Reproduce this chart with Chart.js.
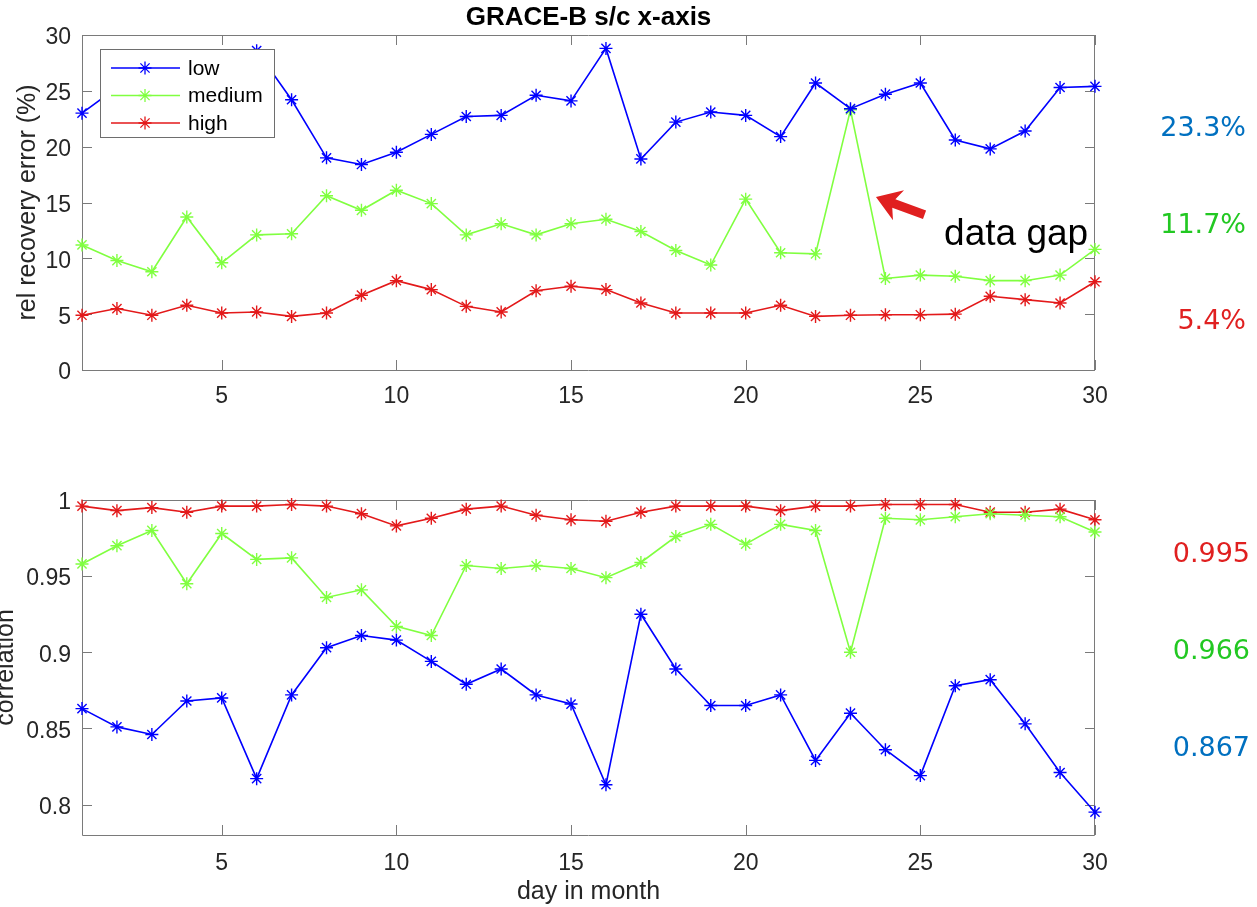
<!DOCTYPE html>
<html>
<head>
<meta charset="utf-8">
<title>GRACE-B s/c x-axis</title>
<script src="https://cdn.jsdelivr.net/npm/chart.js@4.4.1/dist/chart.umd.min.js"></script>
<style>
  body { margin: 0; background: #fff; }
  #wrap { position: relative; width: 1257px; height: 907px; overflow: hidden; }
  canvas { display: block; }
  .stat { position: absolute; font-family: "DejaVu Sans", Verdana, sans-serif; font-size: 27px; line-height: 32px; }
  .err { right: 11px; }
  .corr { right: 7px; }
</style>
</head>
<body>
<div id="wrap">
  <canvas id="errChart" width="1257" height="440"></canvas>
  <canvas id="corrChart" width="1257" height="467"></canvas>
  <div class="stat err" style="top:111px;color:#0070c0">23.3%</div>
  <div class="stat err" style="top:208px;color:#22c822">11.7%</div>
  <div class="stat err" style="top:304px;color:#e02020">5.4%</div>
  <div class="stat corr" style="top:537px;color:#e02020">0.995</div>
  <div class="stat corr" style="top:634px;color:#22c822">0.966</div>
  <div class="stat corr" style="top:731px;color:#0070c0">0.867</div>
</div>
<script>
// daily recovery statistics, one value per day of the month
const days = [1, 2, 3, 4, 5, 6, 7, 8, 9, 10, 11, 12, 13, 14, 15,
              16, 17, 18, 19, 20, 21, 22, 23, 24, 25, 26, 27, 28, 29, 30];

// relative recovery error (%)
const lowErr = [23.0, 25.3, 25.8, 26.4, 27.0, 28.6, 24.2, 19.0, 18.4, 19.5, 21.1, 22.7, 22.8, 24.6, 24.1,
                28.8, 18.9, 22.2, 23.1, 22.8, 20.9, 25.7, 23.4, 24.7, 25.7, 20.6, 19.8, 21.4, 25.3, 25.4];
const medErr = [11.2, 9.8, 8.8, 13.7, 9.6, 12.1, 12.2, 15.6, 14.3, 16.1, 14.9, 12.1, 13.1, 12.1, 13.1,
                13.5, 12.4, 10.7, 9.4, 15.3, 10.5, 10.4, 23.3, 8.2, 8.5, 8.4, 8.0, 8.0, 8.5, 10.8];
const highErr = [4.9, 5.5, 4.9, 5.8, 5.1, 5.2, 4.8, 5.1, 6.7, 8.0, 7.2, 5.7, 5.2, 7.1, 7.5,
                 7.2, 6.0, 5.1, 5.1, 5.1, 5.8, 4.8, 4.9, 4.95, 4.95, 5.0, 6.6, 6.3, 6.0, 7.9];

// correlation
const lowCorr = [0.863, 0.851, 0.846, 0.868, 0.870, 0.817, 0.872, 0.903, 0.911, 0.908, 0.894, 0.879, 0.889, 0.872, 0.866,
                 0.813, 0.925, 0.889, 0.865, 0.865, 0.872, 0.829, 0.860, 0.836, 0.819, 0.878, 0.882, 0.853, 0.821, 0.795];
const medCorr = [0.958, 0.970, 0.980, 0.945, 0.978, 0.961, 0.962, 0.936, 0.941, 0.917, 0.911, 0.957, 0.955, 0.957, 0.955,
                 0.949, 0.959, 0.976, 0.984, 0.971, 0.984, 0.980, 0.900, 0.988, 0.987, 0.989, 0.991, 0.990, 0.989, 0.979];
const highCorr = [0.996, 0.993, 0.995, 0.992, 0.996, 0.996, 0.997, 0.996, 0.991, 0.983, 0.988, 0.994, 0.996, 0.990, 0.987,
                  0.986, 0.992, 0.996, 0.996, 0.996, 0.993, 0.996, 0.996, 0.997, 0.997, 0.997, 0.992, 0.992, 0.994, 0.987];

const seriesNames = ["low", "medium", "high"];
const seriesColors = ["#0000ff", "#80ff40", "#e3191a"];

const xTicks = [5, 10, 15, 20, 25, 30];
const errTicks = [0, 5, 10, 15, 20, 25, 30];
const corrTicks = [0.8, 0.85, 0.9, 0.95, 1];

const FONT = "'Liberation Sans', Helvetica, Arial, sans-serif";
const INK = "#262626";

function makeDatasets(values) {
  return values.map((vals, i) => ({
    label: seriesNames[i],
    data: days.map((d, k) => ({ x: d, y: vals[k] })),
    borderColor: seriesColors[i],
    backgroundColor: seriesColors[i],
    borderWidth: 1.6,
    pointStyle: "star",
    pointRadius: 6.5,
    pointBorderWidth: 1.4,
    pointBorderColor: seriesColors[i],
    tension: 0,
    clip: false
  }));
}

// matlab style box with inward ticks on all four sides
const axesBox = {
  id: "axesBox",
  beforeDatasetsDraw(chart) {
    const { ctx, chartArea: a, scales } = chart;
    const px = v => Math.round(v) + 0.5;
    ctx.save();
    ctx.strokeStyle = "#7a7a7a";
    ctx.lineWidth = 1;
    ctx.beginPath();
    ctx.rect(px(a.left), px(a.top), Math.round(a.right) - Math.round(a.left) - 1, Math.round(a.bottom) - Math.round(a.top));
    scales.x.ticks.forEach(t => {
      const X = px(scales.x.getPixelForValue(t.value));
      ctx.moveTo(X, a.bottom); ctx.lineTo(X, a.bottom - 10);
      ctx.moveTo(X, a.top); ctx.lineTo(X, a.top + 10);
    });
    scales.y.ticks.forEach(t => {
      const Y = px(scales.y.getPixelForValue(t.value));
      ctx.moveTo(a.left, Y); ctx.lineTo(a.left + 10, Y);
      ctx.moveTo(a.right, Y); ctx.lineTo(a.right - 10, Y);
    });
    ctx.stroke();
    ctx.restore();
  }
};

// title centred over the plot box rather than the whole canvas
const boxTitle = {
  id: "boxTitle",
  afterDraw(chart, args, opts) {
    const { ctx, chartArea: a } = chart;
    ctx.save();
    ctx.fillStyle = "#000";
    ctx.font = "bold 26px " + FONT;
    ctx.textAlign = "center";
    ctx.textBaseline = "alphabetic";
    ctx.fillText(opts.text, (a.left + a.right) / 2, a.top - 10);
    ctx.restore();
  }
};

function drawStar(ctx, x, y, r) {
  ctx.beginPath();
  for (let k = 0; k < 4; k++) {
    const ang = k * Math.PI / 4;
    ctx.moveTo(x - Math.cos(ang) * r, y - Math.sin(ang) * r);
    ctx.lineTo(x + Math.cos(ang) * r, y + Math.sin(ang) * r);
  }
  ctx.stroke();
}

// legend box in the upper left corner of the plot
const boxLegend = {
  id: "boxLegend",
  afterDatasetsDraw(chart) {
    const { ctx, chartArea: a } = chart;
    const left = a.left + 18, top = a.top + 14, w = 174, h = 88;
    ctx.save();
    ctx.fillStyle = "#fff";
    ctx.fillRect(left, top, w, h);
    ctx.strokeStyle = "#6e6e6e";
    ctx.lineWidth = 1;
    ctx.strokeRect(Math.round(left) + 0.5, Math.round(top) + 0.5, w, h);
    ctx.font = "21px " + FONT;
    ctx.textBaseline = "middle";
    chart.data.datasets.forEach((ds, i) => {
      const y = top + 19 + i * 27.5;
      ctx.strokeStyle = ds.borderColor;
      ctx.lineWidth = 1.5;
      ctx.beginPath();
      ctx.moveTo(left + 11, y); ctx.lineTo(left + 80, y);
      ctx.stroke();
      ctx.lineWidth = 1.3;
      drawStar(ctx, left + 45, y, 6.5);
      ctx.fillStyle = "#000";
      ctx.fillText(ds.label, left + 88, y + 1);
    });
    ctx.restore();
  }
};

// arrow and note next to the day-23 spike
const gapNote = {
  id: "gapNote",
  afterDatasetsDraw(chart) {
    const { ctx, scales: { x, y } } = chart;
    const tipX = x.getPixelForValue(23.73), tipY = y.getPixelForValue(15.5);
    const tailX = x.getPixelForValue(25.12), tailY = y.getPixelForValue(13.9);
    const dx = tipX - tailX, dy = tipY - tailY, len = Math.hypot(dx, dy);
    const ux = dx / len, uy = dy / len, nx = -uy, ny = ux;
    const headL = 24, headW = 16, shaft = 4.5;
    const bx = tipX - ux * headL, by = tipY - uy * headL;
    ctx.save();
    ctx.fillStyle = "#e02020";
    ctx.beginPath();
    ctx.moveTo(tipX, tipY);
    ctx.lineTo(bx + nx * headW, by + ny * headW);
    ctx.lineTo(bx + ux * 5 + nx * shaft, by + uy * 5 + ny * shaft);
    ctx.lineTo(tailX + nx * shaft, tailY + ny * shaft);
    ctx.lineTo(tailX - nx * shaft, tailY - ny * shaft);
    ctx.lineTo(bx + ux * 5 - nx * shaft, by + uy * 5 - ny * shaft);
    ctx.lineTo(bx - nx * headW, by - ny * headW);
    ctx.closePath();
    ctx.fill();
    ctx.fillStyle = "#000";
    ctx.font = "37px " + FONT;
    ctx.textBaseline = "alphabetic";
    ctx.fillText("data gap", x.getPixelForValue(25.68), y.getPixelForValue(11.2));
    ctx.restore();
  }
};

function xScale(withTitle, pad) {
  return {
    type: "linear",
    min: 1,
    max: 30,
    afterBuildTicks: s => { s.ticks = xTicks.map(v => ({ value: v })); },
    afterFit: s => { s.height = withTitle ? 72 : 70; },
    grid: { display: false },
    border: { display: false },
    ticks: { color: INK, font: { family: FONT, size: 23 }, padding: pad, maxRotation: 0, autoSkip: false },
    title: {
      display: withTitle,
      text: "day in month",
      color: INK,
      font: { family: FONT, size: 25 },
      padding: { top: 3, bottom: 0 }
    }
  };
}

function yScale(min, max, tickVals, label, titlePad) {
  return {
    type: "linear",
    min: min,
    max: max,
    afterBuildTicks: s => { s.ticks = tickVals.map(v => ({ value: v })); },
    afterFit: s => { s.width = 82; },
    grid: { display: false },
    border: { display: false },
    ticks: {
      color: INK,
      font: { family: FONT, size: 23 },
      padding: 3,
      labelOffset: 3,
      callback: v => String(Math.round(v * 100) / 100)
    },
    title: {
      display: true,
      text: label,
      color: INK,
      font: { family: FONT, size: 25 },
      padding: { top: titlePad, bottom: 0 }
    }
  };
}

new Chart(document.getElementById("errChart"), {
  type: "line",
  data: { datasets: makeDatasets([lowErr, medErr, highErr]) },
  options: {
    responsive: false,
    animation: false,
    layout: { padding: { left: 0, right: 162, top: 35, bottom: 0 } },
    plugins: {
      legend: { display: false },
      tooltip: { enabled: false },
      boxTitle: { text: "GRACE-B s/c x-axis" }
    },
    scales: {
      x: xScale(false, 5),
      y: yScale(0, 30, errTicks, "rel recovery error (%)", 13)
    }
  },
  plugins: [axesBox, boxLegend, gapNote, boxTitle]
});

new Chart(document.getElementById("corrChart"), {
  type: "line",
  data: { datasets: makeDatasets([lowCorr, medCorr, highCorr]) },
  options: {
    responsive: false,
    animation: false,
    layout: { padding: { left: 0, right: 162, top: 60, bottom: 0 } },
    plugins: {
      legend: { display: false },
      tooltip: { enabled: false }
    },
    scales: {
      x: xScale(true, 7),
      y: yScale(0.78, 1, corrTicks, "correlation", -9)
    }
  },
  plugins: [axesBox]
});
</script>
</body>
</html>
